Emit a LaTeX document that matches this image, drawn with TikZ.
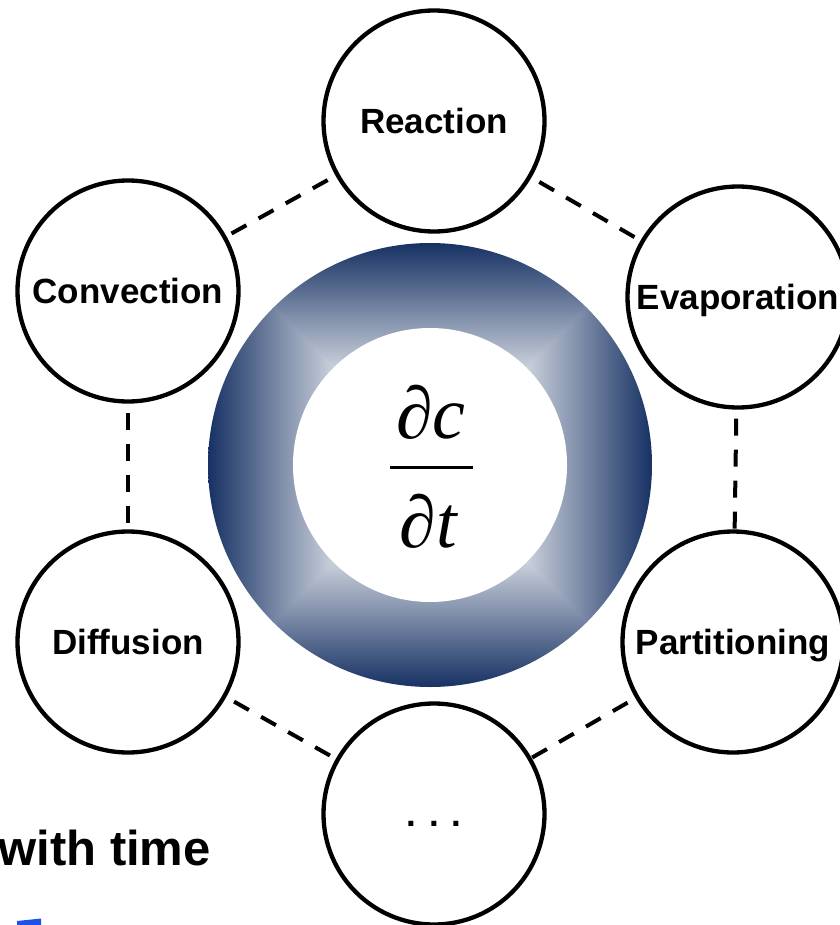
\documentclass[tikz,border=0pt]{standalone}
\usepackage{fontspec}
\setmainfont{Liberation Sans}
\newfontfamily\serifx{Liberation Serif}
\definecolor{ringdark}{RGB}{22,49,99}
\definecolor{textblue}{RGB}{30,80,235}
\pgfdeclareverticalshading{ringtop}{100bp}{color(0bp)=(white); color(38.5bp)=(white); color(75bp)=(ringdark); color(100bp)=(ringdark)}
\pgfdeclareverticalshading{ringbot}{100bp}{color(0bp)=(ringdark); color(25bp)=(ringdark); color(61.5bp)=(white); color(100bp)=(white)}
\pgfdeclarehorizontalshading{ringright}{100bp}{color(0bp)=(white); color(38.5bp)=(white); color(75bp)=(ringdark); color(100bp)=(ringdark)}
\pgfdeclarehorizontalshading{ringleft}{100bp}{color(0bp)=(ringdark); color(25bp)=(ringdark); color(61.5bp)=(white); color(100bp)=(white)}
\begin{document}
\begin{tikzpicture}[x=1pt,y=-1pt,
  proc/.style={circle, draw=black, line width=4.3pt, minimum size=221pt, inner sep=0pt, fill=white,
    font=\bfseries\fontsize{35}{42}\selectfont, text height=25pt, text depth=0pt},
  link/.style={line width=4pt, dash pattern=on 17pt off 14pt, dash phase=22pt},
  frac/.style={anchor=base, inner sep=0pt, font=\serifx\fontsize{74}{80}\selectfont}]
\useasboundingbox (0,0) rectangle (839,925);
% shaded ring
\begin{scope}
  \clip (430,465) circle (222pt);
  \begin{scope}
    \clip (430,467) -- (206,243) -- (654,243) -- cycle;
    \shade[shading=ringtop] (208,243) rectangle (652,465);
  \end{scope}
  \begin{scope}
    \clip (430,463) -- (206,687) -- (654,687) -- cycle;
    \shade[shading=ringbot] (208,465) rectangle (652,687);
  \end{scope}
  \begin{scope}
    \clip (428,465) -- (652,241) -- (652,689) -- cycle;
    \shade[shading=ringright] (430,243) rectangle (652,687);
  \end{scope}
  \begin{scope}
    \clip (432,465) -- (208,241) -- (208,689) -- cycle;
    \shade[shading=ringleft] (208,243) rectangle (430,687);
  \end{scope}
\end{scope}
\node[circle, fill=white, minimum size=274pt, inner sep=0pt] (core) at (430,465) {};
\node[frac] (num) at (431,438) {∂\textit{c}};
\node[frac] (den) at (429,547) {∂\textit{t}};
\draw[line width=3pt] (390,467) -- (473,467);
% process circles
\node[proc] (reac) at (434,121) {Reaction};
\node[proc] (conv) at (128,291) {Convection};
\node[proc] (evap) at (738,297) {Evaporation};
\node[proc] (diff) at (128,642) {Diffusion};
\node[proc] (part) at (733,642) {Partitioning};
\node[proc] (dots) at (434,814) {. . .};
\draw[link] (reac) -- (evap);
\draw[link] (reac) -- (conv);
\draw[link] (conv) -- (diff);
\draw[link] (evap) -- (part);
\draw[link] (diff) -- (dots);
\draw[link] (part) -- (dots);
% caption fragment
\node[anchor=base east, inner sep=0pt, font=\bfseries\fontsize{49}{58}\selectfont] (cap) at (211,865) {with time};
\fill[textblue] (17,921) -- (41,918.5) -- (41,925) -- (17,925) -- cycle;
\end{tikzpicture}
\end{document}
